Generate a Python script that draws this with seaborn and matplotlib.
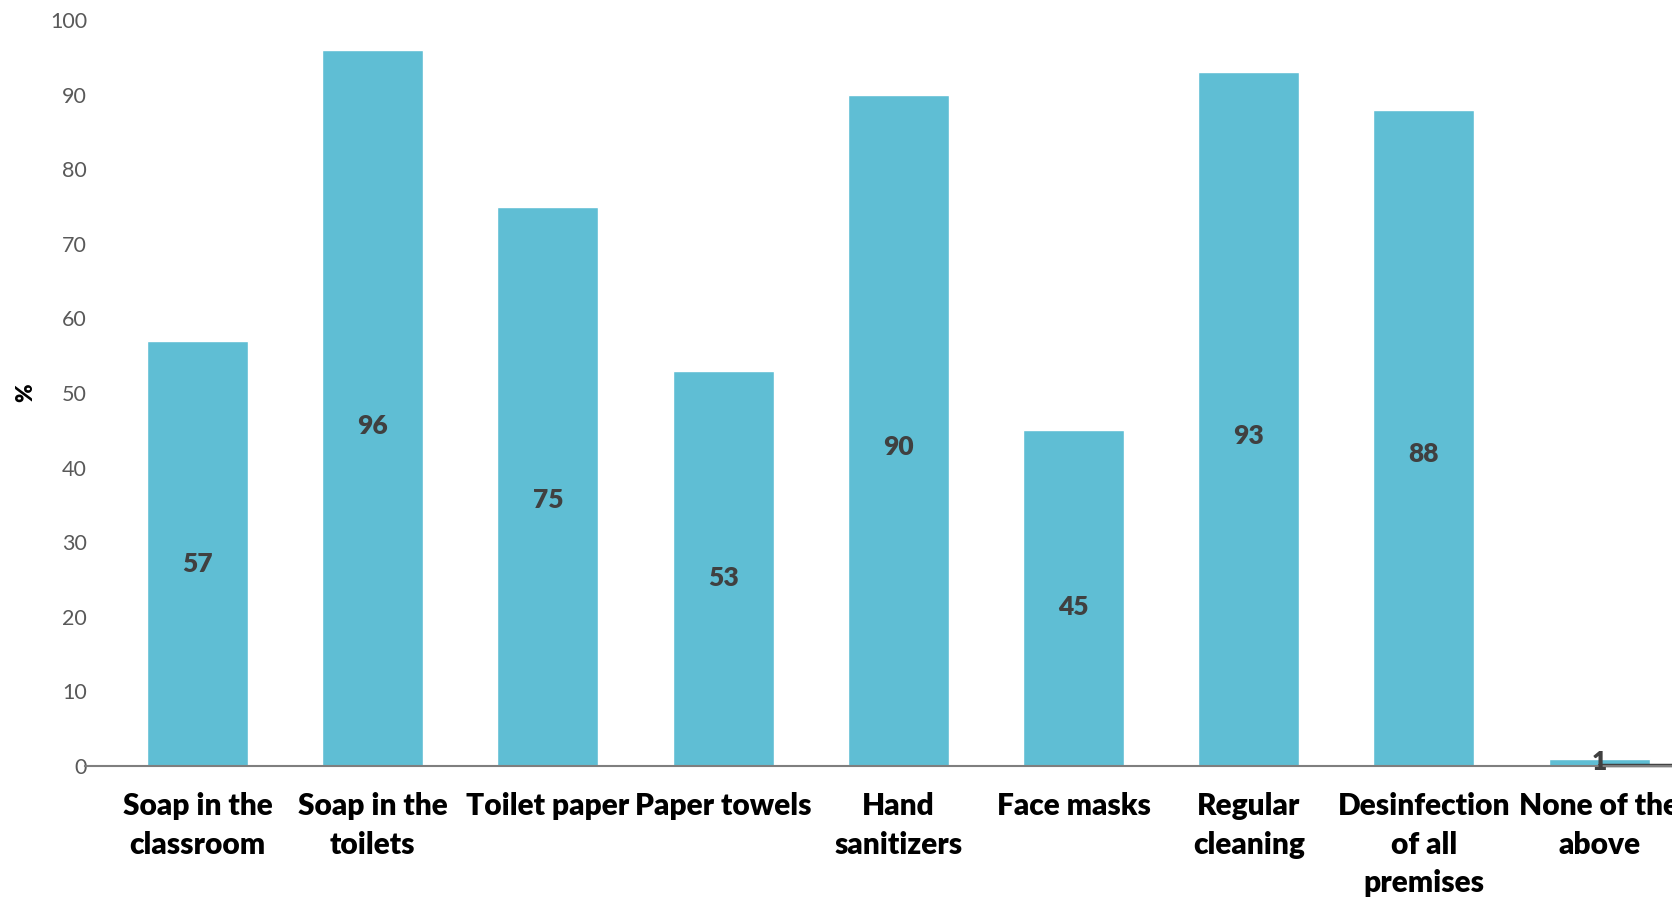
import numpy as np
import pandas as pd
import seaborn as sns
import matplotlib.pyplot as plt

# datos
categorias = ['Soap in the\nclassroom', 'Soap in the\ntoilets', 'Toilet paper', 'Paper towels',
              'Hand\nsanitizers', 'Face masks', 'Regular\ncleaning', 'Desinfection\nof all\npremises',
              'None of the\nabove']
porcentajes = [57, 96, 75, 53, 90, 45, 93, 88, 1]
yticks = [0, 10, 20, 30, 40, 50, 60, 70, 80, 90, 100]

df = pd.DataFrame({'categoria': categorias, 'pct': porcentajes})

sns.set_style('white')
plt.rcParams['font.family'] = ['Lato', 'DejaVu Sans']

fig = plt.figure(figsize=(16.72, 8.98), dpi=100)
ax = fig.add_axes([85/1672, 1 - 766/898, 1 - 85/1672, (766 - 20)/898])

sns.barplot(data=df, x='categoria', y='pct', color='#5FBED4', saturation=1,
            width=0.576, ax=ax)

# etiquetas de valor, un poco por debajo del centro como en el original
for i, v in enumerate(porcentajes):
    ax.text(i, v * 0.475, str(v), ha='center', va='center', fontsize=19,
            fontweight='heavy', color='#404040')

ax.set_xlim(-0.642, 8.416)
ax.set_ylim(0, 100)
ax.set_yticks(yticks)
ax.tick_params(axis='y', labelsize=15.5, labelcolor='#595959', length=0, pad=-1.5)
ax.tick_params(axis='x', labelsize=21.5, length=0, pad=19)
for lab in ax.get_xticklabels():
    lab.set_fontweight('heavy')
    lab.set_color('black')
    lab.set_linespacing(1.45)

ax.set_xlabel('')
ax.set_ylabel('%', fontsize=16, fontweight='heavy', color='black', labelpad=10)

for s in ['top', 'right', 'left']:
    ax.spines[s].set_visible(False)
ax.spines['bottom'].set_color('#7f7f7f')
ax.spines['bottom'].set_linewidth(1.5)

# tramo oscuro junto a la ultima etiqueta
ax.plot([8.0, 8.416], [0.2, 0.2], color='#404040', linewidth=2.5, clip_on=False)

plt.savefig('out.png', dpi=100)
